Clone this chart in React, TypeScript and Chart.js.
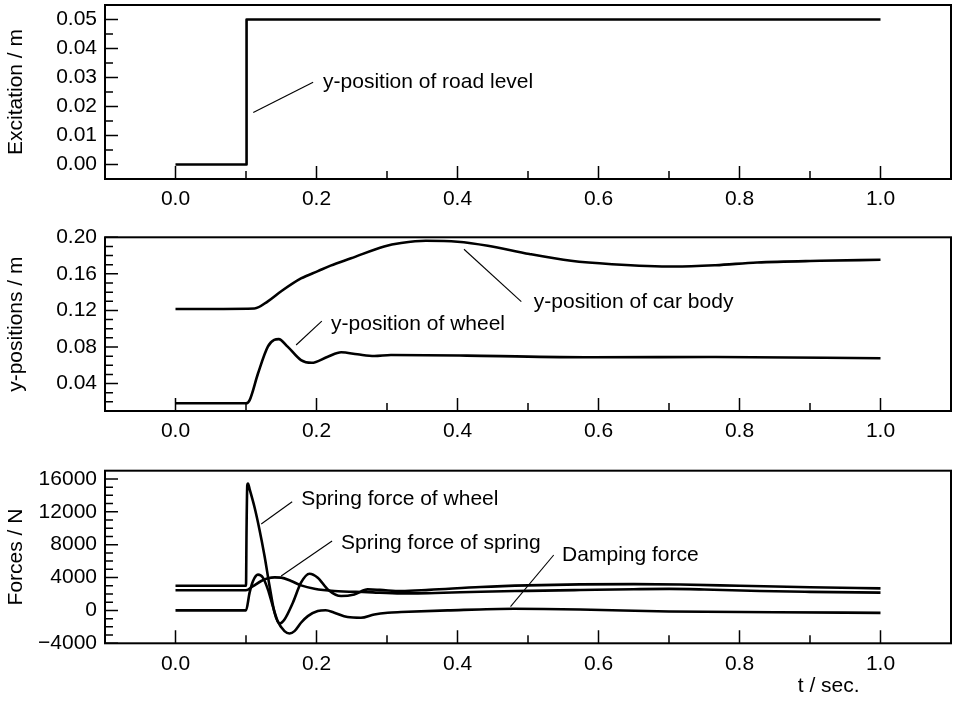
import React, { useEffect, useRef } from "react";
import { Chart, registerables } from "chart.js";

Chart.register(...registerables);

const FONT = '"Liberation Sans", Arial, Helvetica, sans-serif';

// ---------- shared x axis ----------
const xLabelTicks = [0, 0.2, 0.4, 0.6, 0.8, 1.0];
const xMinorTicks = [0.1, 0.3, 0.5, 0.7, 0.9];

// ---------- panel 1: excitation ----------
const tExcitation = [0, 0.1, 0.1008, 1.0];
const excitation = [0, 0, 0.05, 0.05];
const y1Ticks = [0, 0.01, 0.02, 0.03, 0.04, 0.05];
const y1Minor = [0.005, 0.015, 0.025, 0.035, 0.045];

// ---------- panel 2: y-positions ----------
const tBody = [0, 0.112, 0.131, 0.15, 0.178, 0.202, 0.22, 0.249, 0.296, 0.32, 0.355, 0.4, 0.443, 0.502, 0.561, 0.619, 0.708, 0.766, 0.825, 0.914, 1.0];
const yBody = [0.1215, 0.1222, 0.130, 0.141, 0.155, 0.163, 0.169, 0.177, 0.190, 0.1937, 0.1962, 0.1952, 0.1908, 0.1817, 0.1743, 0.1706, 0.168, 0.1695, 0.1725, 0.1743, 0.1754];
const tWheel = [0, 0.1, 0.105, 0.117, 0.131, 0.14, 0.1464, 0.159, 0.178, 0.193, 0.216, 0.235, 0.258, 0.282, 0.3055, 0.413, 0.59, 0.766, 1.0];
const yWheel = [0.0184, 0.0184, 0.0216, 0.051, 0.0804, 0.0878, 0.0886, 0.0804, 0.0657, 0.0627, 0.0694, 0.0742, 0.072, 0.0701, 0.0712, 0.0706, 0.0688, 0.069, 0.0677];
const y2Ticks = [0.04, 0.08, 0.12, 0.16, 0.2];
const y2Minor = [0.02, 0.03, 0.05, 0.06, 0.07, 0.09, 0.1, 0.11, 0.13, 0.14, 0.15, 0.17, 0.18, 0.19];

// ---------- panel 3: forces ----------
const tWheelForce = [0, 0.1, 0.1008, 0.1018, 0.1028, 0.1051, 0.1122, 0.119, 0.1263, 0.1334, 0.1405, 0.1476, 0.1546, 0.1665, 0.178, 0.19, 0.2018, 0.216, 0.235, 0.2536, 0.2726, 0.29, 0.32, 0.36, 0.433, 0.5, 0.574, 0.65, 0.716, 0.8, 0.9, 1.0];
const wheelForce = [3000, 3000, 10000, 15200, 15450, 14760, 12520, 9880, 6620, 2960, -280, -1590, -1100, 940, 3380, 4470, 3990, 2560, 1750, 1950, 2560, 2500, 2350, 2500, 2850, 3050, 3170, 3200, 3150, 3000, 2820, 2680];
const tSpringForce = [0, 0.1, 0.11, 0.1216, 0.131, 0.1405, 0.1499, 0.164, 0.178, 0.197, 0.2253, 0.2726, 0.32, 0.338, 0.38, 0.433, 0.5, 0.574, 0.65, 0.7, 0.75, 0.829, 0.9, 1.0];
const springForce = [2450, 2450, 2950, 3580, 3900, 4020, 3990, 3580, 3050, 2640, 2360, 2230, 2070, 2070, 2150, 2280, 2380, 2480, 2580, 2620, 2550, 2360, 2260, 2160];
const tDampingForce = [0, 0.1, 0.1051, 0.11, 0.117, 0.124, 0.131, 0.138, 0.145, 0.1546, 0.1617, 0.1688, 0.178, 0.1877, 0.2018, 0.213, 0.2253, 0.244, 0.263, 0.282, 0.301, 0.32, 0.386, 0.48, 0.574, 0.7, 0.85, 1.0];
const dampingForce = [0, 0, 2160, 3580, 4350, 3990, 2560, 530, -1300, -2520, -2800, -2520, -1500, -690, -80, 20, -280, -810, -890, -490, -280, -200, 0, 200, 120, -130, -220, -300];
const y3Ticks = [-4000, 0, 4000, 8000, 12000, 16000];
const y3Minor = [-3000, -2000, -1000, 1000, 2000, 3000, 5000, 6000, 7000, 9000, 10000, 11000, 13000, 14000, 15000];

type Ann = { text: string; tx: number; ty: number; line: [number, number, number, number] };

type PanelCfg = {
  top: number;
  height: number;
  padTop: number;
  xAxisH: number;
  yMin: number;
  yMax: number;
  yTicks: number[];
  yMinor: number[];
  yTitle: string;
  fmt: (v: number) => string;
  series: { t: number[]; v: number[]; smooth: boolean }[];
  anns: Ann[];
  xTitle?: { text: string; tx: number; dy: number };
};

const panels: PanelCfg[] = [
  {
    top: 0, height: 215, padTop: 5, xAxisH: 36,
    yMin: -0.005, yMax: 0.055, yTicks: y1Ticks, yMinor: y1Minor,
    yTitle: "Excitation / m",
    fmt: (v) => v.toFixed(2),
    series: [{ t: tExcitation, v: excitation, smooth: false }],
    anns: [{ text: "y-position of road level", tx: 0.2093, ty: 0.0285, line: [0.1103, 0.0179, 0.1952, 0.0284] }],
  },
  {
    top: 215, height: 232, padTop: 22.3, xAxisH: 36,
    yMin: 0.01, yMax: 0.2, yTicks: y2Ticks, yMinor: y2Minor,
    yTitle: "y-positions / m",
    fmt: (v) => v.toFixed(2),
    series: [
      { t: tBody, v: yBody, smooth: true },
      { t: tWheel, v: yWheel, smooth: true },
    ],
    anns: [
      { text: "y-position of car body", tx: 0.5082, ty: 0.1285, line: [0.4092, 0.1869, 0.4905, 0.1296] },
      { text: "y-position of wheel", tx: 0.2207, ty: 0.1052, line: [0.1711, 0.0822, 0.2075, 0.1084] },
    ],
  },
  {
    top: 447, height: 254, padTop: 23.7, xAxisH: 57.7,
    yMin: -4000, yMax: 17000, yTicks: y3Ticks, yMinor: y3Minor,
    yTitle: "Forces / N",
    fmt: (v) => (v < 0 ? "\u2212" + Math.abs(v) : String(v)),
    series: [
      { t: tWheelForce, v: wheelForce, smooth: true },
      { t: tSpringForce, v: springForce, smooth: true },
      { t: tDampingForce, v: dampingForce, smooth: true },
    ],
    anns: [
      { text: "Spring force of wheel", tx: 0.1782, ty: 13520, line: [0.1216, 10515, 0.1655, 13228] },
      { text: "Spring force of spring", tx: 0.2348, ty: 8167, line: [0.1499, 4188, 0.2221, 8447] },
      { text: "Damping force", tx: 0.5484, ty: 6743, line: [0.4752, 453, 0.5365, 6743] },
    ],
    xTitle: { text: "t / sec.", tx: 0.9265, dy: 43.4 },
  },
];

function decorPlugin(cfg: PanelCfg) {
  return {
    id: "decor",
    afterDraw(chart: any) {
      const ctx = chart.ctx as CanvasRenderingContext2D;
      const { left, right, top, bottom } = chart.chartArea;
      const xs = chart.scales.x;
      const ys = chart.scales.y;
      ctx.save();
      ctx.strokeStyle = "#000";
      ctx.lineCap = "butt";
      ctx.lineWidth = 1.5;
      ctx.beginPath();
      for (const v of xLabelTicks) {
        const px = xs.getPixelForValue(v);
        ctx.moveTo(px, bottom);
        ctx.lineTo(px, bottom - 13);
      }
      for (const v of xMinorTicks) {
        const px = xs.getPixelForValue(v);
        ctx.moveTo(px, bottom);
        ctx.lineTo(px, bottom - 8);
      }
      for (const v of cfg.yTicks) {
        const py = ys.getPixelForValue(v);
        ctx.moveTo(left, py);
        ctx.lineTo(left + 13, py);
      }
      for (const v of cfg.yMinor) {
        const py = ys.getPixelForValue(v);
        ctx.moveTo(left, py);
        ctx.lineTo(left + 8, py);
      }
      ctx.stroke();
      ctx.lineWidth = 2;
      ctx.strokeRect(left, top, right - left, bottom - top);

      // annotations
      ctx.lineWidth = 1.1;
      ctx.fillStyle = "#000";
      ctx.font = `21px ${FONT}`;
      ctx.textBaseline = "middle";
      ctx.textAlign = "left";
      for (const a of cfg.anns) {
        ctx.beginPath();
        ctx.moveTo(xs.getPixelForValue(a.line[0]), ys.getPixelForValue(a.line[1]));
        ctx.lineTo(xs.getPixelForValue(a.line[2]), ys.getPixelForValue(a.line[3]));
        ctx.stroke();
        ctx.fillText(a.text, xs.getPixelForValue(a.tx), ys.getPixelForValue(a.ty));
      }
      if (cfg.xTitle) {
        ctx.textAlign = "center";
        ctx.fillText(cfg.xTitle.text, xs.getPixelForValue(cfg.xTitle.tx), bottom + cfg.xTitle.dy);
      }
      ctx.restore();
    },
  };
}

function Panel({ cfg }: { cfg: PanelCfg }) {
  const ref = useRef<HTMLCanvasElement | null>(null);
  useEffect(() => {
    if (!ref.current) return;
    const chart = new Chart(ref.current, {
      type: "line",
      data: {
        datasets: cfg.series.map((s) => ({
          data: s.t.map((x, i) => ({ x, y: s.v[i] })),
          borderColor: "#000",
          borderWidth: 2.6,
          pointRadius: 0,
          fill: false,
          tension: s.smooth ? 0.4 : 0,
          cubicInterpolationMode: s.smooth ? "monotone" : "default",
          borderCapStyle: "butt",
          borderJoinStyle: "round",
        })),
      } as any,
      options: {
        animation: false,
        responsive: true,
        maintainAspectRatio: false,
        devicePixelRatio: 1,
        layout: { padding: { top: cfg.padTop, right: 5, left: 0, bottom: 0 } },
        plugins: { legend: { display: false }, tooltip: { enabled: false } },
        events: [],
        scales: {
          x: {
            type: "linear",
            min: -0.1,
            max: 1.1,
            border: { display: false },
            grid: { display: false, drawTicks: false },
            afterBuildTicks: (s: any) => {
              s.ticks = xLabelTicks.map((value) => ({ value }));
            },
            afterFit: (s: any) => {
              s.height = cfg.xAxisH;
              s.paddingLeft = 0;
              s.paddingRight = 0;
            },
            ticks: {
              autoSkip: false,
              maxRotation: 0,
              padding: 8,
              color: "#000",
              font: { family: FONT, size: 21 },
              callback: (v: any) => Number(v).toFixed(1),
            },
          },
          y: {
            type: "linear",
            min: cfg.yMin,
            max: cfg.yMax,
            border: { display: false },
            grid: { display: false, drawTicks: false },
            afterBuildTicks: (s: any) => {
              s.ticks = cfg.yTicks.map((value) => ({ value }));
            },
            afterFit: (s: any) => {
              s.width = 105;
              s.paddingTop = 0;
              s.paddingBottom = 0;
            },
            ticks: {
              autoSkip: false,
              padding: 8,
              color: "#000",
              font: { family: FONT, size: 21 },
              callback: (v: any) => cfg.fmt(Number(v)),
            },
            title: {
              display: true,
              text: cfg.yTitle,
              color: "#000",
              font: { family: FONT, size: 21 },
              padding: { top: 4, bottom: 0 },
            },
          },
        },
      } as any,
      plugins: [decorPlugin(cfg)],
    });
    return () => chart.destroy();
  }, [cfg]);
  return (
    <div style={{ position: "absolute", left: 0, top: cfg.top, width: 956, height: cfg.height }}>
      <canvas ref={ref} />
    </div>
  );
}

export default function App() {
  return (
    <div style={{ position: "fixed", left: 0, top: 0, width: 956, height: 701, background: "#fff", overflow: "hidden" }}>
      {panels.map((p, i) => (
        <Panel key={i} cfg={p} />
      ))}
    </div>
  );
}
